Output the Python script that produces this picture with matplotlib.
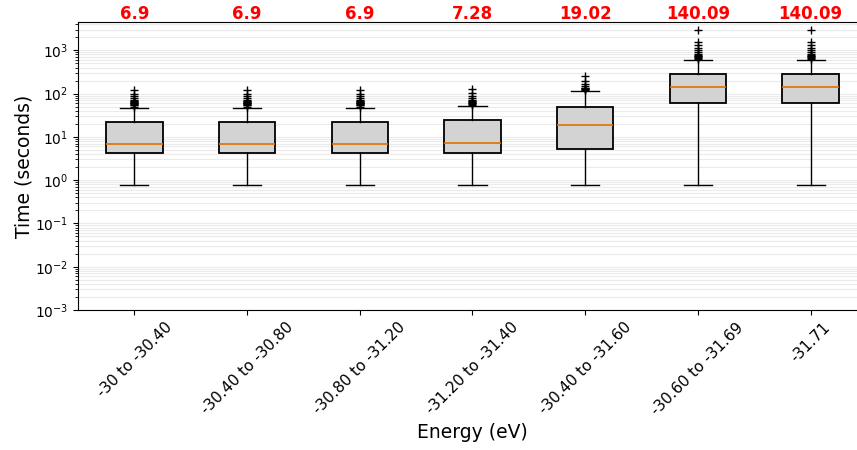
import matplotlib
matplotlib.use("Agg")
import matplotlib.pyplot as plt

# Energy bins and box statistics (seconds)
labels = ["-30 to -30.40", "-30.40 to -30.80", "-30.80 to -31.20", "-31.20 to -31.40",
          "-30.40 to -31.60", "-30.60 to -31.69", "-31.71"]
medians = [6.9, 6.9, 6.9, 7.28, 19.02, 140.09, 140.09]
q1 = [4.3, 4.3, 4.3, 4.3, 5.2, 62, 62]
q3 = [22, 22, 22, 25, 50, 280, 280]
whislo = [0.78, 0.78, 0.78, 0.78, 0.78, 0.78, 0.78]
whishi = [46, 46, 46, 51, 116, 610, 610]
fliers = [
    [50, 53, 55, 57, 59, 60, 62, 64, 66, 68, 72, 80, 90, 100, 122],
    [50, 53, 55, 57, 59, 60, 62, 64, 66, 68, 72, 80, 90, 100, 122],
    [50, 53, 55, 57, 59, 60, 62, 64, 66, 68, 72, 80, 90, 100, 122],
    [55, 58, 60, 62, 64, 66, 68, 72, 80, 90, 105, 125],
    [122, 126, 130, 134, 138, 150, 170, 200, 250],
    [640, 670, 700, 720, 750, 780, 820, 900, 1000, 1150, 1300, 1550, 2950],
    [640, 670, 700, 720, 750, 780, 820, 900, 1000, 1150, 1300, 1550, 2950],
]

stats = []
for i in range(len(labels)):
    stats.append(dict(med=medians[i], q1=q1[i], q3=q3[i], whislo=whislo[i],
                      whishi=whishi[i], fliers=fliers[i], label=labels[i]))

fig = plt.figure(figsize=(8.57, 4.5), dpi=100)
# axes runs a little past the right edge, as in the cropped original
ax = fig.add_axes([78 / 857, 1 - 310 / 450, 789 / 857, 288 / 450])

ax.bxp(stats, positions=range(1, 8), widths=0.5, patch_artist=True,
       boxprops=dict(facecolor="lightgray", edgecolor="black", linewidth=1.3),
       medianprops=dict(color="#e07000", linewidth=1.2),
       whiskerprops=dict(color="black", linewidth=1.0),
       capprops=dict(color="black", linewidth=1.0),
       flierprops=dict(marker="+", markeredgecolor="black", markersize=6))

ax.set_yscale("log")
ax.set_ylim(1e-3, 4500)
ax.set_xlim(0.5, 7.5)
ax.grid(which="both", axis="y", color="lightgray", alpha=0.45, linewidth=0.8)
ax.set_axisbelow(True)

ax.set_xticks(range(1, 8))
ax.set_xticklabels(labels, rotation=45, fontsize=11)
ax.tick_params(axis="y", labelsize=10)
ax.set_xlabel("Energy (eV)", fontsize=13.5)
ax.set_ylabel("Time (seconds)", fontsize=13.5, labelpad=1)

# Median value above each box
for i, m in enumerate(medians):
    ax.annotate(f"{m:g}", xy=(i + 1, 1.0), xycoords=("data", "axes fraction"),
                xytext=(0, -1), textcoords="offset points", ha="center", va="bottom",
                color="red", fontsize=12, fontweight="bold")

fig.savefig("out.png", dpi=100)
